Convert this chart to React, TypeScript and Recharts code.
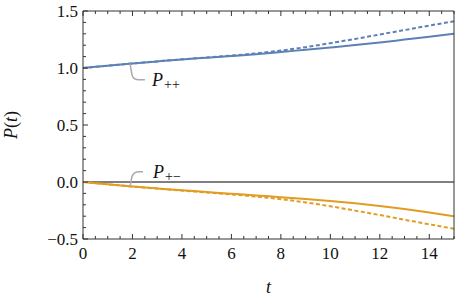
import { LineChart, Line, XAxis, YAxis, ReferenceLine, ReferenceDot, Label } from "recharts";

const times = [0, 1, 2, 3, 4, 5, 6, 7, 8, 9, 10, 11, 12, 13, 14, 15];
const pPlusPlus = [1.0, 1.02, 1.04, 1.058, 1.075, 1.09, 1.105, 1.121, 1.14, 1.16, 1.18, 1.201, 1.224, 1.249, 1.274, 1.3];
const pPlusPlusDashed = [1.0, 1.02, 1.04, 1.058, 1.076, 1.092, 1.109, 1.128, 1.153, 1.183, 1.218, 1.255, 1.294, 1.333, 1.372, 1.41];
const pPlusMinus = [0, -0.02, -0.04, -0.057, -0.073, -0.088, -0.103, -0.118, -0.133, -0.149, -0.167, -0.187, -0.21, -0.237, -0.267, -0.3];
const pPlusMinusDashed = [0, -0.02, -0.04, -0.058, -0.075, -0.092, -0.109, -0.128, -0.151, -0.179, -0.213, -0.251, -0.29, -0.331, -0.371, -0.41];

// tick positions (minor + major); labels only on the majors
const xTicks = Array.from({ length: 31 }, (_, i) => i * 0.5);
const yTicks = Array.from({ length: 21 }, (_, i) => Math.round((-0.5 + i * 0.1) * 10) / 10);

const data = times.map((t, i) => ({
  t,
  pp: pPlusPlus[i],
  ppd: pPlusPlusDashed[i],
  pm: pPlusMinus[i],
  pmd: pPlusMinusDashed[i],
}));

const BLUE = "#5E81B5";
const ORANGE = "#E19C24";
const FRAME = "#333";
const SERIF = { fontFamily: "Liberation Serif, Tinos, Times New Roman, Times, serif" };

const isMajorX = (v: number) => Math.abs(v / 2 - Math.round(v / 2)) < 1e-6;
const isMajorY = (v: number) => Math.abs(v * 2 - Math.round(v * 2)) < 1e-6;
const fmtY = (v: number) => (Math.abs(v) < 1e-9 ? "0.0" : v.toFixed(1).replace("-", "\u2212"));

function BottomTick({ x, y, payload }: any) {
  const v = payload.value;
  const major = isMajorX(v);
  return (
    <g>
      <line x1={x} x2={x} y1={y} y2={y - (major ? 5 : 3)} stroke={FRAME} />
      {major && (
        <text x={x} y={y + 20} textAnchor="middle" fontSize={17} style={SERIF} fill="#111">
          {v}
        </text>
      )}
    </g>
  );
}

function TopTick({ x, y, payload }: any) {
  const major = isMajorX(payload.value);
  return <line x1={x} x2={x} y1={y} y2={y + (major ? 5 : 3)} stroke={FRAME} />;
}

function LeftTick({ x, y, payload }: any) {
  const v = payload.value;
  const major = isMajorY(v);
  return (
    <g>
      <line x1={x} x2={x + (major ? 5 : 3)} y1={y} y2={y} stroke={FRAME} />
      {major && (
        <text x={x - 5} y={y + 5.5} textAnchor="end" fontSize={17} style={SERIF} fill="#111">
          {fmtY(v)}
        </text>
      )}
    </g>
  );
}

function RightTick({ x, y, payload }: any) {
  const major = isMajorY(payload.value);
  return <line x1={x} x2={x - (major ? 5 : 3)} y1={y} y2={y} stroke={FRAME} />;
}

function Callout({ cx, cy, up, sub }: any) {
  // gray leader line from the curve to the label
  const d = up
    ? `M${cx},${cy} L${cx + 2},${cy - 10} Q${cx + 4},${cy - 14.5} ${cx + 9},${cy - 14.5} L${cx + 13},${cy - 14.5}`
    : `M${cx},${cy} L${cx + 2},${cy + 11} Q${cx + 3},${cy + 16} ${cx + 8},${cy + 16} L${cx + 15},${cy + 16}`;
  const ly = up ? cy - 14.5 : cy + 16;
  const lx = up ? cx + 23 : cx + 22;
  return (
    <g>
      <path d={d} fill="none" stroke="#aaa" strokeWidth={1.5} />
      <text x={lx} y={ly + 6} style={SERIF} fill="#111">
        <tspan fontSize={18} fontStyle="italic">P</tspan>
        <tspan fontSize={14} dy={3} dx={1}>{sub}</tspan>
      </text>
    </g>
  );
}

export default function App() {
  return (
    <div style={{ position: "absolute", left: 0, top: 0, background: "#fff" }}>
      <LineChart width={458} height={304} data={data} margin={{ top: 0, right: 0, bottom: 0, left: 0 }}>
        <XAxis
          xAxisId="b"
          dataKey="t"
          type="number"
          domain={[0, 15]}
          ticks={xTicks}
          interval={0}
          height={65}
          tickSize={0}
          tickMargin={0}
          tickLine={false}
          axisLine={{ stroke: FRAME }}
          tick={(p: any) => <BottomTick {...p} />}
        >
          <Label
            content={({ viewBox }: any) => (
              <text
                x={viewBox.x + viewBox.width / 2}
                y={viewBox.y + 54}
                textAnchor="middle"
                fontSize={18}
                fontStyle="italic"
                style={SERIF}
                fill="#111"
              >
                t
              </text>
            )}
          />
        </XAxis>
        <XAxis
          xAxisId="tp"
          orientation="top"
          dataKey="t"
          type="number"
          domain={[0, 15]}
          ticks={xTicks}
          interval={0}
          height={11}
          tickSize={0}
          tickMargin={0}
          tickLine={false}
          axisLine={{ stroke: FRAME }}
          tick={(p: any) => <TopTick {...p} />}
        />
        <YAxis
          yAxisId="l"
          type="number"
          domain={[-0.5, 1.5]}
          ticks={yTicks}
          interval={0}
          width={83}
          tickSize={0}
          tickMargin={0}
          tickLine={false}
          axisLine={{ stroke: FRAME }}
          tick={(p: any) => <LeftTick {...p} />}
        >
          <Label
            content={({ viewBox }: any) => {
              const cx = viewBox.x + 17;
              const cy = viewBox.y + viewBox.height / 2;
              return (
                <text
                  x={cx}
                  y={cy}
                  transform={`rotate(-90 ${cx} ${cy})`}
                  textAnchor="middle"
                  fontSize={18}
                  style={SERIF}
                  fill="#111"
                >
                  <tspan fontStyle="italic">P</tspan>(<tspan fontStyle="italic">t</tspan>)
                </text>
              );
            }}
          />
        </YAxis>
        <YAxis
          yAxisId="r"
          orientation="right"
          type="number"
          domain={[-0.5, 1.5]}
          ticks={yTicks}
          interval={0}
          width={4}
          tickSize={0}
          tickMargin={0}
          tickLine={false}
          axisLine={{ stroke: FRAME }}
          tick={(p: any) => <RightTick {...p} />}
        />
        <ReferenceLine xAxisId="b" yAxisId="l" y={0} stroke="#000" strokeWidth={1} />
        <Line xAxisId="b" yAxisId="l" type="monotone" dataKey="pp" stroke={BLUE} strokeWidth={2} dot={false} isAnimationActive={false} />
        <Line xAxisId="b" yAxisId="l" type="monotone" dataKey="ppd" stroke={BLUE} strokeWidth={2} strokeDasharray="4 2.5" dot={false} isAnimationActive={false} />
        <Line xAxisId="b" yAxisId="l" type="monotone" dataKey="pm" stroke={ORANGE} strokeWidth={2} dot={false} isAnimationActive={false} />
        <Line xAxisId="b" yAxisId="l" type="monotone" dataKey="pmd" stroke={ORANGE} strokeWidth={2} strokeDasharray="4 2.5" dot={false} isAnimationActive={false} />
        <ReferenceDot
          xAxisId="b"
          yAxisId="l"
          x={1.9}
          y={1.038}
          r={0}
          shape={(p: any) => <Callout cx={p.cx} cy={p.cy} up={false} sub="++" />}
        />
        <ReferenceDot
          xAxisId="b"
          yAxisId="l"
          x={1.9}
          y={-0.038}
          r={0}
          shape={(p: any) => <Callout cx={p.cx} cy={p.cy} up={true} sub={"+\u2212"} />}
        />
      </LineChart>
    </div>
  );
}
